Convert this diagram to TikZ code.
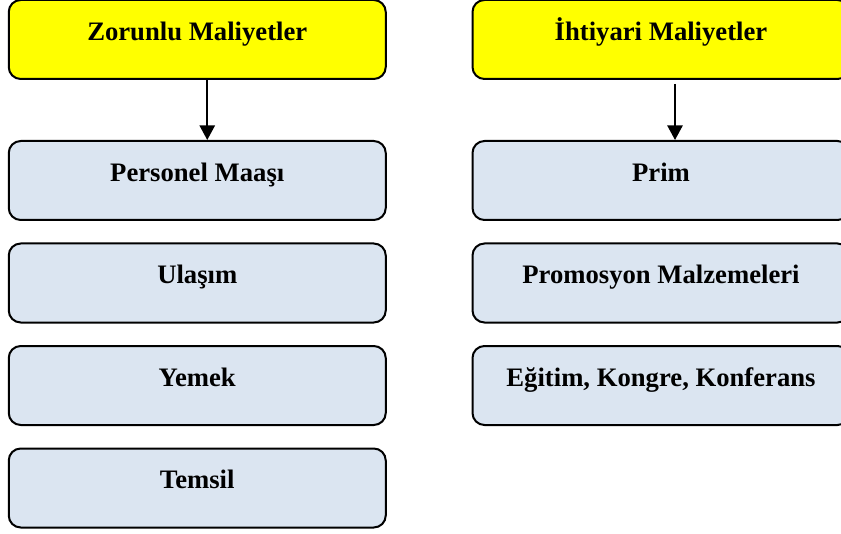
\documentclass[tikz,border=0pt]{standalone}
\usepackage{fontspec}
\setmainfont{Liberation Serif}
\usetikzlibrary{arrows.meta}

\definecolor{headyellow}{HTML}{FFFF00}
\definecolor{itemblue}{HTML}{DBE5F1}

\begin{document}
\begin{tikzpicture}[
  x=0.75pt, y=-0.75pt,
  box/.style={rectangle, rounded corners=9pt, draw=black, line width=1.5pt,
              minimum width=282.75pt, minimum height=59.25pt,
              text height=26.5pt, text depth=25.25pt, inner ysep=3.75pt,
              font=\fontsize{20}{24}\selectfont\bfseries, align=center},
  head/.style={box, fill=headyellow},
  item/.style={box, fill=itemblue},
  link/.style={-{Triangle[length=11pt, width=11.5pt]}, line width=1.4pt, draw=black},
]
\useasboundingbox (0,0) rectangle (841,534);

% two columns, the right one runs past the page edge as in the original
\def\colA{197.25}
\def\colB{661}
\def\rowA{39.5}
\def\rowB{180.5}
\def\rowC{283}
\def\rowD{385.5}
\def\rowE{488}

% mandatory costs
\node[head] (zor) at (\colA,\rowA) {Zorunlu Maliyetler};
\node[item] (per) at (\colA,\rowB) {Personel Maaşı};
\node[item] (ula) at (\colA,\rowC) {Ulaşım};
\node[item] (yem) at (\colA,\rowD) {Yemek};
\node[item] (tem) at (\colA,\rowE) {Temsil};

% optional costs
\node[head] (iht) at (\colB,\rowA) {İhtiyari Maliyetler};
\node[item] (pri) at (\colB,\rowB) {Prim};
\node[item] (pro) at (\colB,\rowC) {Promosyon Malzemeleri};
\node[item] (egi) at (\colB,\rowD) {Eğitim, Kongre, Konferans};

\draw[link] ([xshift=7.5pt]zor.south) -- ([xshift=7.5pt]per.north);
\draw[link] ([xshift=10.5pt,yshift=-3pt]iht.south) -- ([xshift=10.5pt]pri.north);

\end{tikzpicture}
\end{document}
